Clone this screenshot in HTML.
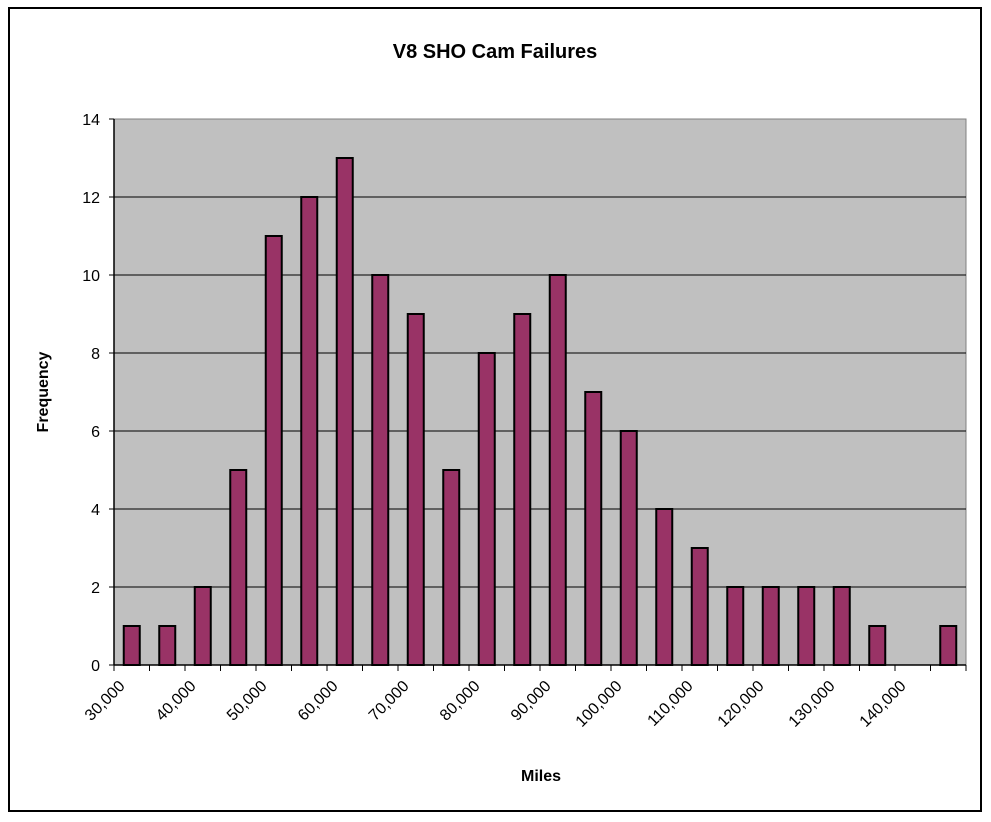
<!DOCTYPE html>
<html><head><meta charset="utf-8"><style>
html,body{margin:0;padding:0;background:#fff;}
svg{display:block;font-family:"Liberation Sans",Arial,sans-serif;}
</style></head><body>
<svg id="chart" width="991" height="822">
<rect x="9" y="8" width="972" height="803" fill="#fff" stroke="#000" stroke-width="2"/>
<text x="495" y="58" font-size="20" font-weight="bold" text-anchor="middle">V8 SHO Cam Failures</text>
<rect x="114" y="119" width="852" height="546" fill="#c0c0c0" stroke="#808080" stroke-width="1"/>
<g id="grid"></g><g id="bars"></g><g id="axes"></g>
<text x="0" y="0" transform="translate(48,392) rotate(-90)" font-size="16" font-weight="bold" text-anchor="middle">Frequency</text>
<text x="541" y="781" font-size="16" font-weight="bold" text-anchor="middle">Miles</text>
</svg>
<script>
const values = [1,1,2,5,11,12,13,10,9,5,8,9,10,7,6,4,3,2,2,2,2,1,0,1];
const xTickLabels = ["30,000","40,000","50,000","60,000","70,000","80,000","90,000","100,000","110,000","120,000","130,000","140,000"];
const yTicks = [0,2,4,6,8,10,12,14];
const NS="http://www.w3.org/2000/svg";
const X0=114,X1=966,Y0=665,Y1=119,YMAX=14;
const bw=(X1-X0)/values.length;
function y(v){return Y0-(v/YMAX)*(Y0-Y1);}
function xc(i){return X0+bw*(i+0.5);}
function mk(t,a,p){const e=document.createElementNS(NS,t);for(const k in a)e.setAttribute(k,a[k]);p.appendChild(e);return e;}
const grid=document.getElementById('grid'),bars=document.getElementById('bars'),axes=document.getElementById('axes');
yTicks.forEach(v=>{
  if(v>0&&v<YMAX){const g=mk('line',{x1:X0,x2:X1,y1:y(v),y2:y(v),stroke:'#000','stroke-width':1},grid);
  
  }
  const t=mk('line',{x1:X0-5,x2:X0,y1:y(v),y2:y(v),stroke:'#000'},axes);
  
  
  const l=mk('text',{x:X0-14,y:y(v)+6,'font-size':16,'text-anchor':'end'},axes);
  l.textContent=v;
  
  
});
values.forEach((v,i)=>{
  if(v<=0)return;
  const r=mk('rect',{x:xc(i)-8,y:y(v),width:16,height:Y0-y(v),fill:'#993366',stroke:'#000','stroke-width':2},bars);
  
  
});
mk('line',{x1:X0,x2:X0,y1:Y1,y2:Y0,stroke:'#000','stroke-width':1.5},axes);
mk('line',{x1:X0,x2:X1,y1:Y0,y2:Y0,stroke:'#000','stroke-width':1.5},axes);
for(let i=0;i<=values.length;i++){
  const t=mk('line',{x1:X0+bw*i,x2:X0+bw*i,y1:Y0,y2:Y0+6,stroke:'#000'},axes);
  
  
}
xTickLabels.forEach((s,j)=>{
  const cx=xc(j*2)-6, cy=Y0+22;
  const l=mk('text',{x:cx,y:cy,'font-size':16,'text-anchor':'end',transform:`rotate(-45 ${cx} ${cy})`},axes);
  l.textContent=s;
  
  
});
</script>
</body></html>
